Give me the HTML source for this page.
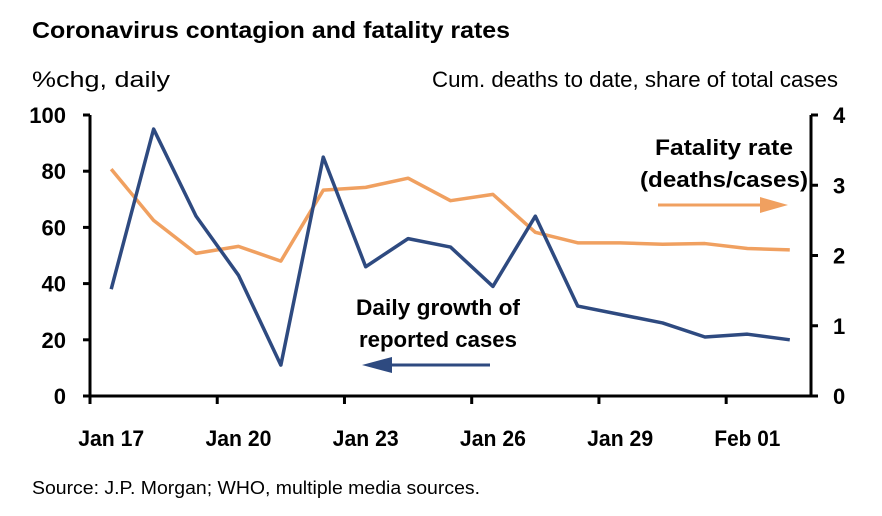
<!DOCTYPE html>
<html><head><meta charset="utf-8"><style>
body{margin:0;background:#fff;width:882px;height:511px;overflow:hidden;font-family:"Liberation Sans",Arial,sans-serif}
</style></head><body>
<svg id="c" width="882" height="511" xmlns="http://www.w3.org/2000/svg">
<text x="32" y="38" font-size="23" font-weight="bold" fill="#000" textLength="478" lengthAdjust="spacingAndGlyphs">Coronavirus contagion and fatality rates</text>
<text x="32" y="87" font-size="22" fill="#000" textLength="138" lengthAdjust="spacingAndGlyphs">%chg, daily</text>
<text x="432" y="87" font-size="22" fill="#000" textLength="406" lengthAdjust="spacingAndGlyphs">Cum. deaths to date, share of total cases</text>
<text x="32" y="494" font-size="18" fill="#000" textLength="448" lengthAdjust="spacingAndGlyphs">Source: J.P. Morgan; WHO, multiple media sources.</text>
<g id="axes"></g>
<g id="series"></g>
<text x="724" y="155" font-size="22" font-weight="bold" text-anchor="middle" textLength="138" lengthAdjust="spacingAndGlyphs">Fatality rate</text>
<text x="724" y="187" font-size="22" font-weight="bold" text-anchor="middle" textLength="168" lengthAdjust="spacingAndGlyphs">(deaths/cases)</text>
<line x1="658" y1="205" x2="770" y2="205" stroke="#F0A060" stroke-width="3"/>
<polygon points="788,205 760,197 760,213" fill="#F0A060"/>
<text x="438" y="315" font-size="22" font-weight="bold" text-anchor="middle" textLength="164" lengthAdjust="spacingAndGlyphs">Daily growth of</text>
<text x="438" y="347" font-size="22" font-weight="bold" text-anchor="middle" textLength="158" lengthAdjust="spacingAndGlyphs">reported cases</text>
<line x1="490" y1="365" x2="382" y2="365" stroke="#2E4A80" stroke-width="3"/>
<polygon points="362,365 392,357 392,373" fill="#2E4A80"/>
</svg>
<script>
const categories=["Jan 17","Jan 18","Jan 19","Jan 20","Jan 21","Jan 22","Jan 23","Jan 24","Jan 25","Jan 26","Jan 27","Jan 28","Jan 29","Jan 30","Jan 31","Feb 01","Feb 02"];
const growthValues=[38,95,64,43,11,85,46,56,53,39,64,32,29,26,21,22,20];
const fatalityValues=[3.23,2.5,2.03,2.13,1.92,2.93,2.97,3.1,2.78,2.87,2.33,2.18,2.18,2.16,2.17,2.1,2.08];
const leftTicks=[0,20,40,60,80,100];
const rightTicks=[0,1,2,3,4];
const xLabelIdx=[0,3,6,9,12,15];
const xLabels=["Jan 17","Jan 20","Jan 23","Jan 26","Jan 29","Feb 01"];
const X0=90,X1=811,Y0=396,Y1=115;
const cw=(X1-X0)/categories.length;
const xc=i=>X0+cw*(i+0.5);
const yl=v=>Y0-(v/100)*(Y0-Y1);
const yr=v=>Y0-(v/4)*(Y0-Y1);
const NS="http://www.w3.org/2000/svg";
const ax=document.getElementById('axes'),se=document.getElementById('series');
function mk(p,t,a){const e=document.createElementNS(NS,t);for(const k in a)e.setAttribute(k,a[k]);p.appendChild(e);return e;}
let e;
e=mk(ax,'line',{x1:X0,y1:Y1,x2:X0,y2:Y0,stroke:'#000','stroke-width':3});


e=mk(ax,'line',{x1:X1,y1:Y1,x2:X1,y2:Y0,stroke:'#000','stroke-width':3});


e=mk(ax,'line',{x1:X0-6,y1:Y0,x2:X1+6,y2:Y0,stroke:'#000','stroke-width':3});


leftTicks.forEach(v=>{
 e=mk(ax,'line',{x1:X0-7,y1:yl(v),x2:X0,y2:yl(v),stroke:'#000','stroke-width':3});
 
 
 e=mk(ax,'text',{x:X0-24,y:yl(v)+8,'font-size':22,'font-weight':'bold','text-anchor':'end'});e.textContent=v;
 
 
});
rightTicks.forEach(v=>{
 e=mk(ax,'line',{x1:X1,y1:yr(v),x2:X1+7,y2:yr(v),stroke:'#000','stroke-width':3});
 
 
 e=mk(ax,'text',{x:X1+22,y:yr(v)+8,'font-size':22,'font-weight':'bold','text-anchor':'start'});e.textContent=v;
 
 
});
xLabelIdx.forEach((i,k)=>{
 const tx=X0+cw*i;
 e=mk(ax,'line',{x1:tx,y1:Y0,x2:tx,y2:Y0+8,stroke:'#000','stroke-width':3});
 
 
 e=mk(ax,'text',{x:xc(i),y:Y0+50,'font-size':22,'font-weight':'bold','text-anchor':'middle',textLength:66,lengthAdjust:'spacingAndGlyphs'});e.textContent=xLabels[k];
 
 
});
e=mk(se,'polyline',{points:fatalityValues.map((v,i)=>xc(i)+','+yr(v)).join(' '),fill:'none',stroke:'#F0A060','stroke-width':3.5,'stroke-linejoin':'round'});


e=mk(se,'polyline',{points:growthValues.map((v,i)=>xc(i)+','+yl(v)).join(' '),fill:'none',stroke:'#2E4A80','stroke-width':3.5,'stroke-linejoin':'round'});


</script>
</body></html>
